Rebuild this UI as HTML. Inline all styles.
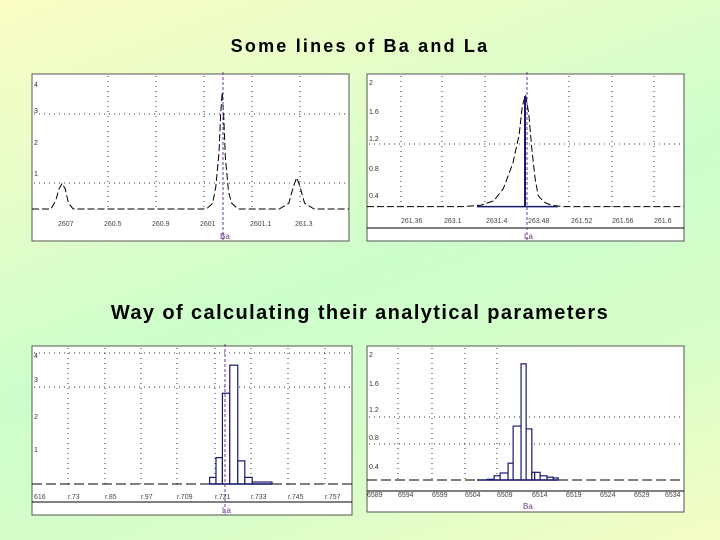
<!DOCTYPE html>
<html><head><meta charset="utf-8">
<style>
html,body{margin:0;padding:0}
body{width:720px;height:540px;overflow:hidden;background:linear-gradient(160deg,#fbfdc6 0%,#e6fdc8 25%,#ccfecb 50%,#d8fdc8 75%,#f6fdc6 100%);font-family:"Liberation Sans",sans-serif}
svg{position:absolute;left:0;top:0}
</style></head><body>
<svg id="s" width="720" height="540">
<text x="360" y="52" text-anchor="middle" font-size="18" letter-spacing="2.2" font-weight="bold" fill="#000">Some lines of Ba and La</text>
<text x="360" y="319" text-anchor="middle" font-size="20" letter-spacing="1.4" font-weight="bold" fill="#000">Way of calculating their analytical parameters</text>
</svg>
<script>
// Panel 1 (Ba lines) dashed curve
const p1X=[0,6,7.5,8.5,9.5,10.5,11.5,13,50,55,57,58,59,59.5,60,60.5,61,62,63,65,78,81,82.5,83.5,84.5,86,89,100];
const p1Y=[0,0,0.3,0.7,0.9,0.7,0.2,0,0,0,0.2,0.8,2,3.3,4.1,3.2,1.8,0.6,0.2,0,0,0.2,0.8,1.1,0.8,0.2,0,0];
const p1Ticks=["2607","260.5","260.9","2601","2601.1","261.3"];
const p1YTicks=["4","3","2","1"];
// Panel 2 (La line) dashed curve
const p2X=[0,30,36,40,43,46,48,49,50,51,52,53,54,56,58,62,70,100];
const p2Y=[0.2,0.2,0.22,0.28,0.45,0.8,1.2,1.6,1.75,1.5,1.0,0.6,0.35,0.26,0.22,0.2,0.2,0.2];
const p2Ticks=["261.36","263.1","2631.4","263.48","261.52","261.56","261.6"];
const p2YTicks=["2","1.6","1.2","0.8","0.4"];
// Panel 3 bars
const p3Edges=[55.5,57.5,59.5,61.8,64.3,66.5,68.8,75];
const p3Vals=[0.2,0.8,2.75,3.6,0.7,0.2,0.06];
const p3Ticks=["616","r.73","r.85","r.97","r.709","r.721","r.733","r.745","r.757"];
const p3YTicks=["4","3","2","1"];
// Panel 4 bars
const p4Edges=[34.7,37.9,40.1,42,44.5,46.1,48.6,50.2,52,52.9,54.6,56.8,58.7,60.3];
const p4Vals=[0.2,0.21,0.26,0.3,0.44,0.97,1.86,0.93,0.31,0.31,0.26,0.24,0.23];
const p4Ticks=["6589","6594","6599","6504","6509","6514","6519","6524","6529","6534"];
const p4YTicks=["2","1.6","1.2","0.8","0.4"];

const NS="http://www.w3.org/2000/svg";
const svg=document.getElementById('s');
function mk(tag,attrs,parent){const e=document.createElementNS(NS,tag);for(const k in attrs)e.setAttribute(k,attrs[k]);(parent||svg).appendChild(e);return e;}

function panel(cfg){
  const g=mk('g',{});
  
  
  const bg=mk('rect',{x:cfg.x0,y:cfg.y0,width:cfg.x1-cfg.x0,height:cfg.y1-cfg.y0,fill:'#fff',stroke:'#555','stroke-width':1},g);
  
  
  const sx=v=>cfg.x0+(v/100)*(cfg.x1-cfg.x0);
  const sy=v=>cfg.base-v*cfg.k;
  const bY=sy(cfg.bv||0);
  cfg.vgrid.forEach(x=>{const l=mk('line',{x1:x,x2:x,y1:cfg.y0+2,y2:bY+2,stroke:'#333','stroke-dasharray':'1,4'},g);
    
    });
  cfg.hgrid.forEach(y=>{const l=mk('line',{x1:cfg.x0+2,x2:cfg.x1-2,y1:y,y2:y,stroke:'#333','stroke-dasharray':'1,4'},g);
    
    });
  cfg.yt.forEach((t,i)=>{const e=mk('text',{x:cfg.x0+2,y:cfg.ytY[i],'font-size':7,fill:'#333'},g);e.textContent=t;
    
    });
  cfg.xt.forEach((t,i)=>{const e=mk('text',{x:cfg.xtX[i],y:cfg.xtY,'font-size':7,fill:'#444'},g);e.textContent=t;
    
    });
  if(cfg.hline){const l=mk('line',{x1:cfg.x0,x2:cfg.x1,y1:cfg.hline,y2:cfg.hline,stroke:'#000'},g);
    
    }
  if(cfg.X){const pts=cfg.X.map((x,i)=>sx(x)+','+sy(cfg.Y[i])).join(' ');
    const p=mk('polyline',{points:pts,fill:'none',stroke:'#000','stroke-width':1,'stroke-dasharray':'7,3'},g);
    
    }
  if(cfg.E){
    const d1=mk('line',{x1:cfg.x0,x2:sx(cfg.E[0]),y1:bY,y2:bY,stroke:'#000','stroke-dasharray':'10,4'},g);
    
    
    const d2=mk('line',{x1:sx(cfg.E[cfg.E.length-1]),x2:cfg.x1,y1:bY,y2:bY,stroke:'#000','stroke-dasharray':'10,4'},g);
    
    
    cfg.V.forEach((v,i)=>{const r=mk('rect',{x:sx(cfg.E[i]),y:sy(v),width:sx(cfg.E[i+1])-sx(cfg.E[i]),height:Math.max(0,bY-sy(v)),fill:'#fff',stroke:'#1a1a6e','stroke-width':1.2},g);
    
    });
    const b=mk('line',{x1:sx(cfg.E[0]),x2:sx(cfg.E[cfg.E.length-1]),y1:bY,y2:bY,stroke:'#1a1a6e','stroke-width':1.5},g);
    
    }
  if(cfg.solid){const s=cfg.solid;
    const l1=mk('line',{x1:s.px,x2:s.px,y1:bY,y2:s.top,stroke:'#1a1a6e','stroke-width':2},g);
    
    
    const l2=mk('line',{x1:s.a,x2:s.b,y1:bY,y2:bY,stroke:'#1a1a6e','stroke-width':1.5},g);
    
    }
  if(cfg.cur>0){
  const c=mk('line',{x1:cfg.cur,x2:cfg.cur,y1:cfg.y0-2,y2:cfg.y1,stroke:'#6a3a8a','stroke-dasharray':'3,2'},g);
  
  
  const lb=mk('text',{x:cfg.cur-3,y:cfg.y1-2,'font-size':8,fill:'#6a3a8a'},g);lb.textContent=cfg.label;
  
  }
}

panel({name:'ba-lines-chart',x0:32,x1:349,y0:74,y1:241,base:209,k:28.5,
  vgrid:[108,156,204,252,300],hgrid:[114,183],yt:p1YTicks,ytY:[87,113,145,176],
  xt:p1Ticks,xtX:[58,104,152,200,250,295],xtY:226,X:p1X,Y:p1Y,cur:223,label:'Ba'});
panel({name:'la-line-chart',x0:367,x1:684,y0:74,y1:241,base:221,k:72,bv:0.2,
  vgrid:[401,442,485,569,612,654],hgrid:[144],yt:p2YTicks,ytY:[85,114,141,171,198],
  xt:p2Ticks,xtX:[401,444,486,528,571,612,654],xtY:223,X:p2X,Y:p2Y,cur:527,label:'La',
  hline:228,solid:{px:525,top:96,a:477,b:558}});
panel({name:'la-calculation-chart',x0:32,x1:352,y0:346,y1:515,base:484,k:33,
  vgrid:[68,105,141,177,215,251,288,325],hgrid:[353,387],yt:p3YTicks,ytY:[358,382,419,452],
  xt:p3Ticks,xtX:[34,68,105,141,177,215,251,288,325],xtY:499,E:p3Edges,V:p3Vals,cur:225,label:'La',hline:502});
panel({name:'ba-calculation-chart',x0:367,x1:684,y0:346,y1:512,base:494,k:70,bv:0.2,
  vgrid:[398,432,465,497],hgrid:[417,444],yt:p4YTicks,ytY:[357,386,412,440,469],
  xt:p4Ticks,xtX:[367,398,432,465,497,532,566,600,634,665],xtY:497,E:p4Edges,V:p4Vals,cur:-10,label:'',hline:491});
const ba=mk('text',{x:523,y:509,'font-size':8,fill:'#6a3a8a'});ba.textContent='Ba';


</script>
</body></html>
